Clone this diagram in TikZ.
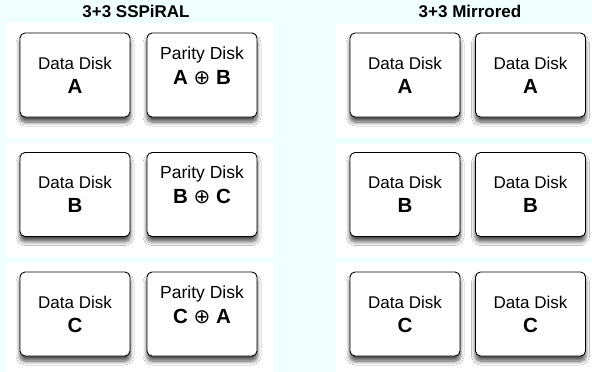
\documentclass[tikz,border=0pt]{standalone}
\usepackage{fontspec}
\setmainfont{Liberation Sans}
\newfontfamily\symfont{DejaVu Sans}
\usetikzlibrary{shadows.blur}
\definecolor{bgcyan}{RGB}{240,255,255}
\newcommand{\dkey}[1]{\fontsize{20.5}{24}\selectfont\bfseries #1}
\newcommand{\xo}{{\symfont\mdseries\fontsize{20}{24}\selectfont ⊕}}
\begin{document}
\begin{tikzpicture}[x=1pt,y=-1pt,
  disk/.style={rectangle,rounded corners=5pt,draw,line width=0.9pt,fill=white,
    minimum width=110pt,minimum height=84pt,align=center,font=\fontsize{17}{24}\selectfont,
    blur shadow={shadow xshift=0pt,shadow yshift=-5pt,shadow blur steps=8,shadow blur radius=4pt,shadow opacity=70}},
  parity/.style={disk,font=\fontsize{17.5}{25}\selectfont,text depth=19pt},
  title/.style={font=\fontsize{17}{20}\selectfont\bfseries}]
  \useasboundingbox (0,0) rectangle (592,372);
  \fill[bgcyan] (0,0) rectangle (592,372);
  % white row panels
  \foreach \top/\bot in {23/138,143/257,263/372}
    \fill[white] (6,\top) rectangle (273,\bot);
  \foreach \top/\bot in {24/137,144/257,263/372}
    \fill[white] (336,\top) rectangle (592,\bot);

  \node[title] at (136,11) (sspiral) {3+3 SSPiRAL};
  \node[title] at (470,11) (mirrored) {3+3 Mirrored};

  \node[disk] at (75,75) (da) {Data Disk\\\dkey{A}};
  \node[parity] at (202,75) (pab) {Parity Disk\\\dkey{A \xo{} B}};
  \node[disk] at (75,194.5) (db) {Data Disk\\\dkey{B}};
  \node[parity] at (202,194.5) (pbc) {Parity Disk\\\dkey{B \xo{} C}};
  \node[disk] at (75,314) (dc) {Data Disk\\\dkey{C}};
  \node[parity] at (202,314) (pca) {Parity Disk\\\dkey{C \xo{} A}};

  \node[disk] at (405,75) (ma1) {Data Disk\\\dkey{A}};
  \node[disk] at (530.5,75) (ma2) {Data Disk\\\dkey{A}};
  \node[disk] at (405,194.5) (mb1) {Data Disk\\\dkey{B}};
  \node[disk] at (530.5,194.5) (mb2) {Data Disk\\\dkey{B}};
  \node[disk] at (405,314) (mc1) {Data Disk\\\dkey{C}};
  \node[disk] at (530.5,314) (mc2) {Data Disk\\\dkey{C}};
\end{tikzpicture}
\end{document}
